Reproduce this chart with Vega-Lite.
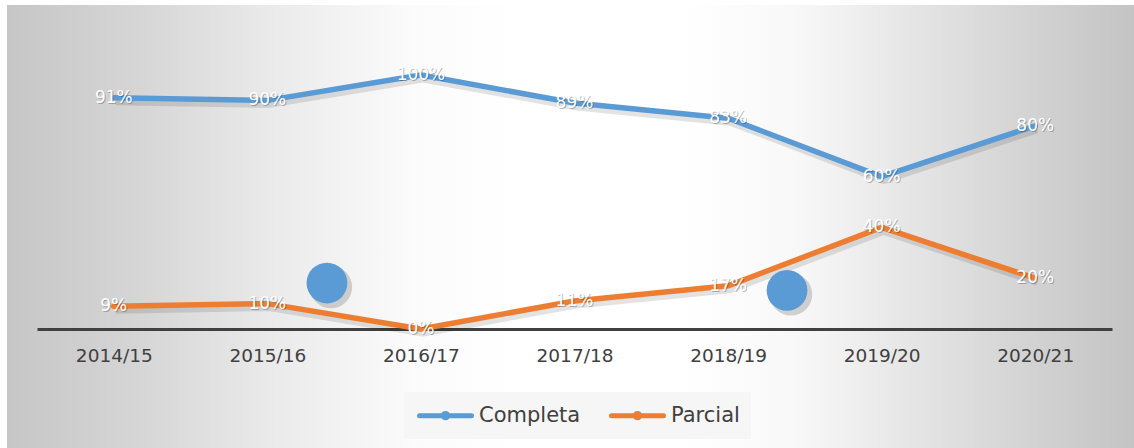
{
  "$schema": "https://vega.github.io/schema/vega-lite/v6.json",
  "width": 1127,
  "height": 443,
  "autosize": {"type": "none"},
  "padding": {"left": 7, "top": 5, "right": 0, "bottom": 0},
  "background": "#ffffff",
  "view": {
    "stroke": null,
    "fill": {
      "gradient": "linear", "x1": 0, "y1": 0.5, "x2": 1, "y2": 0.5,
      "stops": [
        {"offset": 0, "color": "#c6c6c6"},
        {"offset": 0.12, "color": "#d6d6d6"},
        {"offset": 0.24, "color": "#ebebeb"},
        {"offset": 0.36, "color": "#fbfbfb"},
        {"offset": 0.45, "color": "#ffffff"},
        {"offset": 0.6, "color": "#ffffff"},
        {"offset": 0.7, "color": "#f8f8f8"},
        {"offset": 0.8, "color": "#e6e6e6"},
        {"offset": 0.9, "color": "#d4d4d4"},
        {"offset": 1, "color": "#c4c4c4"}
      ]
    }
  },
  "config": {"font": "DejaVu Sans"},
  "datasets": {
    "main": [
      {"year": "2014/15", "serie": "Completa", "value": 0.91},
      {"year": "2015/16", "serie": "Completa", "value": 0.90},
      {"year": "2016/17", "serie": "Completa", "value": 1.00},
      {"year": "2017/18", "serie": "Completa", "value": 0.89},
      {"year": "2018/19", "serie": "Completa", "value": 0.83},
      {"year": "2019/20", "serie": "Completa", "value": 0.60},
      {"year": "2020/21", "serie": "Completa", "value": 0.80},
      {"year": "2014/15", "serie": "Parcial", "value": 0.09},
      {"year": "2015/16", "serie": "Parcial", "value": 0.10},
      {"year": "2016/17", "serie": "Parcial", "value": 0.00},
      {"year": "2017/18", "serie": "Parcial", "value": 0.11},
      {"year": "2018/19", "serie": "Parcial", "value": 0.17},
      {"year": "2019/20", "serie": "Parcial", "value": 0.40},
      {"year": "2020/21", "serie": "Parcial", "value": 0.20}
    ],
    "deco": [
      {"xi": 1.388, "y": 0.181},
      {"xi": 4.384, "y": 0.152}
    ]
  },
  "layer": [
    {
      "data": {"name": "main"},
      "encoding": {
        "x": {
          "field": "year", "type": "ordinal", "sort": null,
          "scale": {"type": "point", "range": [30, 1105], "padding": 0.5},
          "axis": {
            "title": null, "offset": -119, "domainColor": "#404040", "domainWidth": 3,
            "ticks": false, "tickSize": 0, "labelPadding": 17, "labelFontSize": 18.5,
            "labelColor": "#404040", "labelFont": "DejaVu Sans", "labelAngle": 0, "grid": false
          }
        },
        "y": {
          "field": "value", "type": "quantitative",
          "scale": {"domain": [-0.4685, 1.2756], "nice": false, "zero": false},
          "axis": null
        }
      },
      "layer": [
        {
          "mark": {"type": "line", "color": "#000000", "opacity": 0.11, "strokeWidth": 7, "xOffset": 2, "yOffset": 4, "strokeJoin": "round"},
          "encoding": {"detail": {"field": "serie"}}
        },
        {
          "mark": {"type": "line", "strokeWidth": 5.5, "strokeJoin": "round", "strokeCap": "round"},
          "encoding": {
            "color": {
              "field": "serie", "type": "nominal",
              "scale": {"domain": ["Completa", "Parcial"], "range": ["#5B9BD5", "#ED7D31"]},
              "legend": {
                "orient": "none", "legendX": 397, "legendY": 387, "direction": "horizontal",
                "title": null, "fillColor": "#f6f6f6", "padding": 11,
                "symbolType": "M-2.6,0L2.6,0M-0.22,0A0.22,0.22,0,1,0,0.22,0A0.22,0.22,0,1,0,-0.22,0",
                "symbolSize": 400, "symbolStrokeWidth": 5, "symbolOffset": 18,
                "labelFontSize": 21, "labelColor": "#404040", "labelFont": "DejaVu Sans",
                "labelOffset": 21, "columnPadding": 20,
                "encode": {"symbols": {"update": {"fill": {"scale": "color", "field": "value"}, "strokeCap": {"value": "round"}, "opacity": {"value": 1}}}}
              }
            }
          }
        },
        {
          "mark": {"type": "text", "color": "#000000", "opacity": 0.25, "fontSize": 17, "dx": 1, "dy": 1, "baseline": "middle", "align": "center"},
          "encoding": {"text": {"field": "value", "type": "quantitative", "format": ".0%"}}
        },
        {
          "mark": {"type": "text", "color": "#ffffff", "fontSize": 17, "baseline": "middle", "align": "center"},
          "encoding": {"text": {"field": "value", "type": "quantitative", "format": ".0%"}}
        }
      ]
    },
    {
      "data": {"name": "deco"},
      "encoding": {
        "x": {"field": "xi", "type": "quantitative", "scale": {"domain": [-0.5, 6.5], "range": [30, 1105], "nice": false, "zero": false}, "axis": null},
        "y": {"field": "y", "type": "quantitative", "scale": {"domain": [-0.4685, 1.2756], "nice": false, "zero": false}, "axis": null}
      },
      "layer": [
        {"mark": {"type": "circle", "color": "#000000", "opacity": 0.16, "size": 1800, "xOffset": 4, "yOffset": 4}},
        {"mark": {"type": "circle", "color": "#5B9BD5", "opacity": 1, "size": 1662}}
      ]
    }
  ],
  "resolve": {"scale": {"x": "independent"}}
}
